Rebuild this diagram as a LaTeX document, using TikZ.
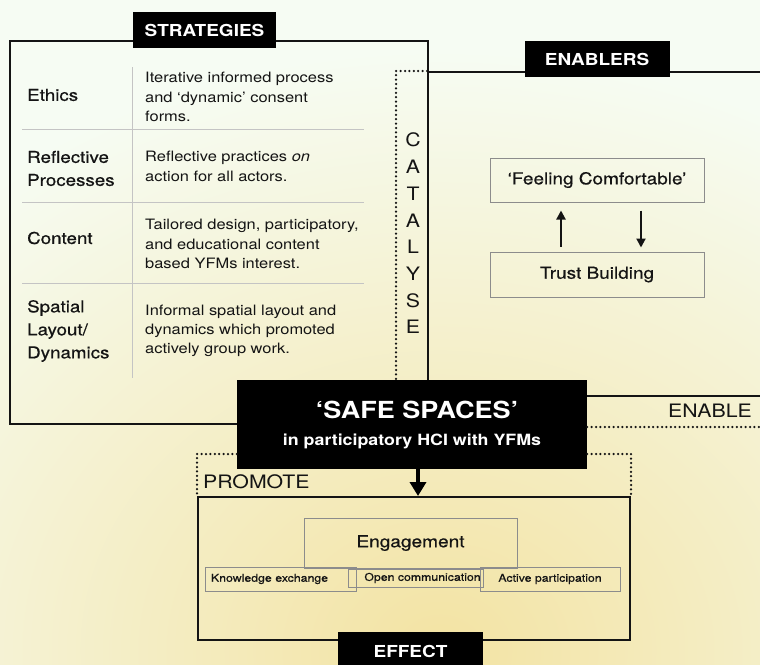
\documentclass[tikz,border=0pt]{standalone}
\usepackage{fontspec}
\setmainfont{TeX Gyre Heros}[FakeStretch=1.15]
\newfontfamily\medfont{TeX Gyre Heros}[FakeStretch=1.15,FakeBold=0.6]
\usetikzlibrary{arrows.meta,calc}
\definecolor{bgmint}{HTML}{F6FCF3}
\definecolor{bgyellow}{HTML}{F3E3A3}
\definecolor{ink}{HTML}{141414}
\definecolor{boxgray}{HTML}{8C8C8C}
\definecolor{rulegray}{HTML}{C4C4C4}
\begin{document}
\begin{tikzpicture}[x=1pt,y=-1pt,
  frame/.style={draw=ink,line width=2pt,inner sep=0pt},
  tag/.style={fill=black,text=white,font=\bfseries\fontsize{16.5}{19}\selectfont,inner sep=0pt},
  rowlabel/.style={anchor=west,align=left,font=\medfont\fontsize{16.3}{23}\selectfont,text=ink,inner sep=0pt},
  desc/.style={anchor=west,align=left,font=\fontsize{14.3}{19.3}\selectfont,text=ink,inner sep=0pt},
  graybox/.style={draw=boxgray,line width=1pt,inner sep=0pt,text=ink},
  dots/.style={draw=ink,line width=2.5pt,line cap=round,dash pattern=on 0pt off 4.4pt},
  verb/.style={font=\fontsize{18.5}{22}\selectfont,text=ink,inner sep=0pt},
  thinarrow/.style={draw=ink,line width=2pt,-{Triangle[width=9pt,length=9pt]}},
  bigarrow/.style={draw=black,line width=4pt,-{Triangle[width=16pt,length=14pt]}},
  smallbox/.style={graybox,font=\medfont\fontsize{10.7}{12}\selectfont}
]
\useasboundingbox (0,0) rectangle (760,664);
\begin{scope}
\clip (0,0) rectangle (760,664);
\fill[bgmint] (0,0) rectangle (760,664);
\shade[inner color=bgyellow,outer color=bgmint] (440,650) ellipse [x radius=720pt,y radius=600pt];

% main frames
\node[frame,minimum width=418pt,minimum height=383pt] (strat) at (219,232.5) {};
\node[frame,minimum width=352pt,minimum height=324pt] (enab) at (604,234) {};
\node[frame,minimum width=432pt,minimum height=143pt] (effect) at (414,568.5) {};

% tags
\node[tag,minimum width=143pt,minimum height=36pt] (tagstrat) at (204.5,30) {STRATEGIES};
\node[tag,minimum width=145pt,minimum height=36pt] (tagenab) at (597,59) {ENABLERS};
\node[tag,minimum width=145pt,minimum height=40pt] (tageff) at (410.5,652) {};
\node[font=\bfseries\fontsize{16.5}{19}\selectfont,text=white,inner sep=0pt] (tagefft) at (410.5,651) {EFFECT};

% table
\draw[rulegray,line width=1pt] (132,67) -- (132,378);
\draw[rulegray,line width=1pt] (22,129) -- (364,129);
\draw[rulegray,line width=1pt] (22,202) -- (364,202);
\draw[rulegray,line width=1pt] (22,283) -- (364,283);

\node[rowlabel] (l1) at (27,95) {Ethics};
\node[rowlabel] (l2) at (27,168.5) {Reflective\\Processes};
\node[rowlabel] (l3) at (27,238) {Content};
\node[rowlabel] (l4) at (27,331) {Spatial\\Layout/\\Dynamics};

\node[desc] (d1) at (145,97) {Iterative informed process\\and `dynamic' consent\\forms.};
\node[desc] (d2) at (145,166.5) {Reflective practices \textit{on}\\action for all actors.};
\node[desc] (d3) at (145,244) {Tailored design, participatory,\\and educational content\\based YFMs interest.};
\node[desc] (d4) at (145,331) {Informal spatial layout and\\dynamics which promoted\\actively group work.};

% enablers content
\node[graybox,minimum width=214pt,minimum height=44pt,font=\medfont\fontsize{16.5}{20}\selectfont] (feel) at (597,180) {‘Feeling Comfortable’};
\node[graybox,minimum width=214pt,minimum height=45pt,font=\medfont\fontsize{16.5}{20}\selectfont] (trust) at (597,274.5) {Trust Building};
\draw[thinarrow] ([xshift=-36pt,yshift=5pt]trust.north) -- ([xshift=-36pt,yshift=-8pt]feel.south);
\draw[thinarrow] ([xshift=44pt,yshift=-8pt]feel.south) -- ([xshift=44pt,yshift=4pt]trust.north);

% safe spaces
\node[fill=black,minimum width=350pt,minimum height=89pt,inner sep=0pt] (safe) at (412,424.5) {};
\node[font=\bfseries\fontsize{23.5}{28}\selectfont,text=white,inner sep=0pt] (safet1) at (417,410) {‘SAFE SPACES’};
\node[font=\bfseries\fontsize{15.5}{18}\selectfont,text=white,inner sep=0pt] (safet2) at (412,441) {in participatory HCI with YFMs};

% catalyse
\draw[dots] (enab.north west) -- ++(-31,0) coordinate (catc) -- (catc |- safe.north);
\node[verb,align=center,font=\fontsize{18.5}{26.7}\selectfont] (catalyse) at (413,233.5) {C\\A\\T\\A\\L\\Y\\S\\E};

% enable
\coordinate (enableend) at (764,427);
\draw[dots] (safe.east |- enableend) -- (enableend);
\node[verb] (enable) at (710,411) {ENABLE};

% promote
\draw[dots] (safe.west |- 0,454) -- (effect.north west |- 0,454) -- (effect.north west);
\draw[dots] (safe.east |- 0,454) -- (effect.north east |- 0,454) -- (effect.north east);
\node[verb,anchor=west] (promote) at (203,482) {PROMOTE};

% arrow
\draw[bigarrow] ([xshift=6pt]safe.south) -- ([xshift=6pt]safe.south |- effect.north);

% effect content
\node[graybox,minimum width=213pt,minimum height=50pt,font=\medfont\fontsize{16.6}{20}\selectfont] (eng) at (410.5,543) {Engagement};
\node[smallbox,minimum width=135pt,minimum height=18pt] (open) at (415.5,578) {\hspace*{14pt}Open communication};
\node[smallbox,minimum height=24pt,text width=139pt,inner xsep=6pt,align=left] (know) at (280.5,579) {Knowledge exchange};
\node[smallbox,minimum width=140pt,minimum height=24pt] (active) at (550,579) {Active participation};
\end{scope}
\end{tikzpicture}
\end{document}
